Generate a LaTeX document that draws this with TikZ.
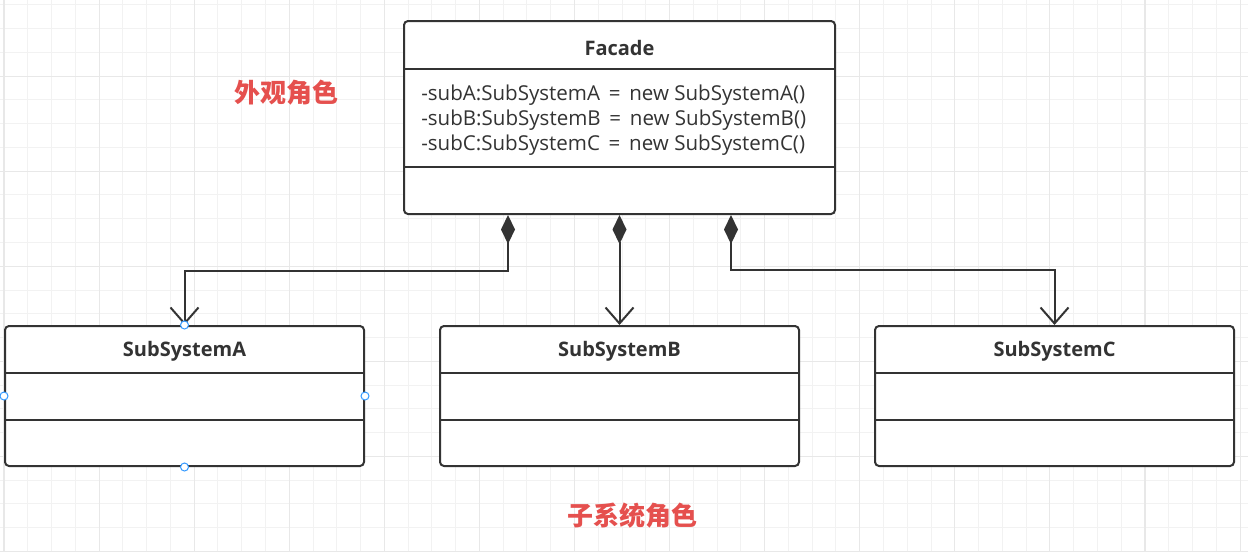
\documentclass[tikz,border=0pt]{standalone}
\usepackage{fontspec}
\setmainfont{Open Sans}
\newfontfamily\cjk{Noto Sans CJK SC}
\usetikzlibrary{arrows.meta,calc}
\definecolor{ink}{HTML}{333333}
\definecolor{redlabel}{HTML}{E5504E}
\definecolor{gridminor}{HTML}{F2F2F2}
\definecolor{gridmajor}{HTML}{E8E8E8}
\definecolor{handle}{HTML}{3399FF}
\tikzset{
  umlbox/.style={draw=ink, line width=1.5pt, rounded corners=3pt, fill=white, inner sep=0pt},
  divider/.style={draw=ink, line width=1.5pt},
  titletext/.style={font=\fontsize{15}{18}\selectfont\bfseries, text=ink},
  bodytext/.style={font=\fontsize{15.4}{18.75}\selectfont, text=ink, align=left, anchor=west, inner sep=0pt},
  role/.style={font=\cjk\fontsize{19.5}{22}\selectfont\bfseries, text=redlabel},
  comp/.style={draw=ink, line width=1.5pt, {Diamond[length=21.75pt,width=10.5pt,fill=ink]}-{Straight Barb[length=12pt,width=21pt]}},
  selhandle/.style={circle, draw=handle, fill=white, line width=0.75pt, minimum size=6pt, inner sep=0pt},
}
\begin{document}
\begin{tikzpicture}[x=0.75pt,y=-0.75pt]
\useasboundingbox (0,0) rectangle (1248,551);
\fill[white] (0,0) rectangle (1248,551);
% grid
\foreach \i in {0,...,52} {
  \pgfmathsetmacro{\gx}{4+23.77*\i}
  \draw[gridminor, line width=0.75pt] (\gx,0) -- (\gx,551);
}
\foreach \i in {0,...,23} {
  \pgfmathsetmacro{\gy}{-19+23.77*\i}
  \draw[gridminor, line width=0.75pt] (0,\gy) -- (1248,\gy);
}
\foreach \i in {0,...,13} {
  \pgfmathsetmacro{\gx}{4+95.08*\i}
  \draw[gridmajor, line width=0.8pt] (\gx,0) -- (\gx,551);
}
\foreach \i in {0,...,6} {
  \pgfmathsetmacro{\gy}{-19+95.08*\i}
  \draw[gridmajor, line width=0.8pt] (0,\gy) -- (1248,\gy);
}

% Facade
\node[umlbox, minimum width={431*0.75pt}, minimum height={193*0.75pt}] (facade) at (619.5,117.5) {};
\draw[divider] (404,69) -- (835,69);
\draw[divider] (404,167) -- (835,167);
\node[titletext] (facadetitle) at (619.5,48) {Facade};
\node[bodytext] (facadeattrs) at (421,120) {-subA:SubSystemA\, =\, new SubSystemA()\\-subB:SubSystemB\, =\, new SubSystemB()\\-subC:SubSystemC\, =\, new SubSystemC()};

% Subsystems
\node[umlbox, minimum width={359*0.75pt}, minimum height={140*0.75pt}] (subA) at (184.5,396) {};
\draw[divider] (5,373) -- (364,373);
\draw[divider] (5,420) -- (364,420);
\node[titletext] (subAtitle) at (184.5,351) {SubSystemA};

\node[umlbox, minimum width={359*0.75pt}, minimum height={140*0.75pt}] (subB) at (619.5,396) {};
\draw[divider] (440,373) -- (799,373);
\draw[divider] (440,420) -- (799,420);
\node[titletext] (subBtitle) at (619.5,351) {SubSystemB};

\node[umlbox, minimum width={359*0.75pt}, minimum height={140*0.75pt}] (subC) at (1054.5,396) {};
\draw[divider] (875,373) -- (1234,373);
\draw[divider] (875,420) -- (1234,420);
\node[titletext] (subCtitle) at (1054.5,351) {SubSystemC};

% connectors
\draw[comp] ($(facade.south west)+(105,0)$) -- ++(0,56) -| (subA.north);
\draw[comp] (facade.south) -- (subB.north);
\draw[comp] ($(facade.south west)+(328,0)$) -- ++(0,55) -| (subC.north);

% selection handles on SubSystemA
\node[selhandle] (hn) at (subA.north) {};
\node[selhandle] (hs) at (subA.south) {};
\node[selhandle] (hw) at (subA.west) {};
\node[selhandle] (he) at (subA.east) {};

% role labels
\node[role] (facaderole) at (286,93) {外观角色};
\node[role] (subrole) at (632,516) {子系统角色};
\end{tikzpicture}
\end{document}
